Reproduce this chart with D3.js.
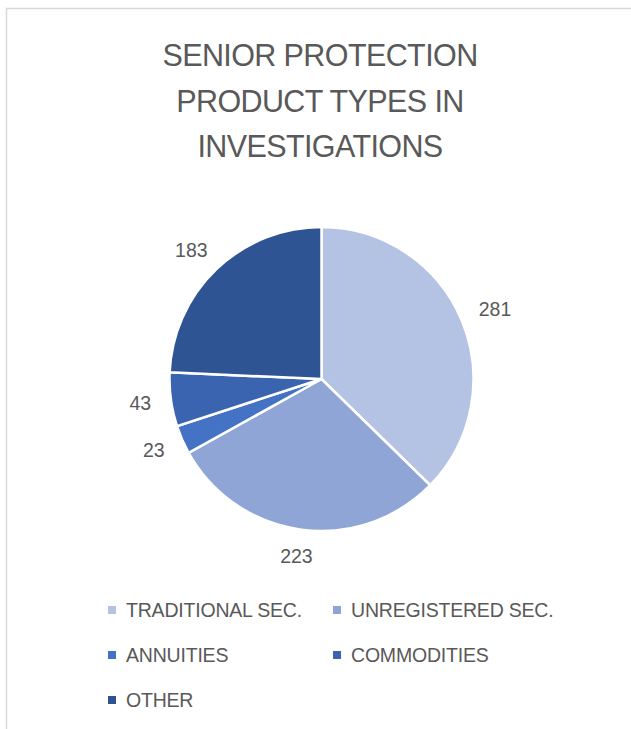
<!DOCTYPE html>
<html>
<head>
<meta charset="utf-8">
<script src="https://cdn.jsdelivr.net/npm/d3@7"></script>
<style>
  body { margin: 0; background: #fff; }
  text { font-family: "Liberation Sans", Arial, sans-serif; fill: #595959; }
</style>
</head>
<body>
<svg id="chart"></svg>
<script>
const categories = ['TRADITIONAL SEC.', 'UNREGISTERED SEC.', 'ANNUITIES', 'COMMODITIES', 'OTHER'];
const values = [281, 223, 23, 43, 183];
const colors = ['#b4c2e4', '#8ea5d6', '#4472c4', '#3a64b0', '#2f5494'];
const titleLines = ['SENIOR PROTECTION', 'PRODUCT TYPES IN', 'INVESTIGATIONS'];

const w = 631, h = 729;
const cx = 321.5, cy = 379, radius = 152;

const svg = d3.select('#chart').attr('width', w).attr('height', h);

// chart area border (runs off the right and bottom)
svg.append('path')
  .attr('d', `M6.5,${h} L6.5,8.5 L${w},8.5`)
  .attr('fill', 'none')
  .attr('stroke', '#d9d9d9')
  .attr('stroke-width', 1.5);

svg.selectAll('.title')
  .data(titleLines)
  .join('text')
  .attr('class', 'title')
  .attr('x', 320)
  .attr('y', (d, i) => 66 + i * 45.5)
  .attr('text-anchor', 'middle')
  .style('font-size', '30.5px')
  .style('letter-spacing', '-0.6px')
  .text(d => d);

const data = categories.map((c, i) => ({ name: c, value: values[i], color: colors[i] }));
const pie = d3.pie().value(d => d.value).sort(null);
const arcs = pie(data);
const arcGen = d3.arc().innerRadius(0).outerRadius(radius);
const labelArc = d3.arc().innerRadius(172).outerRadius(172);

const g = svg.append('g').attr('transform', `translate(${cx},${cy})`);

g.selectAll('path')
  .data(arcs)
  .join('path')
  .attr('d', arcGen)
  .attr('fill', d => d.data.color)
  .attr('stroke', '#fff')
  .attr('stroke-width', 2.5);

// data labels sit just outside the rim, pushed out by half their size
g.selectAll('text')
  .data(arcs)
  .join('text')
  .attr('dy', '0.35em')
  .attr('text-anchor', 'middle')
  .style('font-size', '19.5px')
  .text(d => d.data.value)
  .attr('transform', function(d) {
    const [x, y] = labelArc.centroid(d);
    const a = (d.startAngle + d.endAngle) / 2;
    const bw = this.getComputedTextLength();
    return `translate(${x + Math.sin(a) * bw / 2},${y - Math.cos(a) * 7})`;
  });

// legend
const legend = svg.append('g');
const items = legend.selectAll('g')
  .data(data)
  .join('g')
  .attr('transform', (d, i) => `translate(${i % 2 === 0 ? 108 : 333},${610 + Math.floor(i / 2) * 45})`);

items.append('rect')
  .attr('x', 0).attr('y', -4)
  .attr('width', 8).attr('height', 8)
  .attr('fill', d => d.color);

items.append('text')
  .attr('x', 18)
  .attr('dy', '0.35em')
  .style('font-size', '19.5px')
  .style('letter-spacing', '-0.2px')
  .text(d => d.name);
</script>
</body>
</html>
